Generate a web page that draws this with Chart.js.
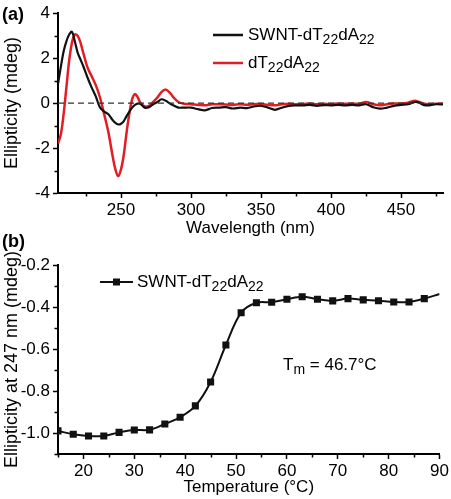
<!DOCTYPE html>
<html>
<head>
<meta charset="utf-8">
<script src="https://cdn.jsdelivr.net/npm/chart.js@4/dist/chart.umd.min.js"></script>
<style>
  html, body { margin: 0; padding: 0; background: #fff; }
  #wrap { position: relative; width: 451px; height: 499px; }
  canvas { position: absolute; left: 0; }
  #cdA { top: 0; }
  #cdB { top: 230px; }
</style>
</head>
<body>
<div id="wrap">
  <canvas id="cdA" width="451" height="240"></canvas>
  <canvas id="cdB" width="451" height="269"></canvas>
</div>
<script>
const FONT = "'Liberation Sans', Arial, sans-serif"
Chart.defaults.font.family = FONT
Chart.defaults.color = "#000"

// panel (a): CD spectra
const wavelength = [205, 207, 209, 211, 213, 215, 217, 219, 221, 223, 226, 229, 232, 235, 238, 241, 244, 246, 248, 250,
  252, 254, 256, 258, 260, 262, 264, 267, 270, 273, 276, 279, 282, 285, 288, 291, 295, 300, 305, 310,
  315, 320, 325, 330, 335, 340, 345, 350, 355, 360, 365, 370, 375, 380, 385, 390, 395, 400, 405, 410,
  415, 420, 425, 430, 435, 440, 445, 450, 455, 460, 463, 466, 470, 475, 480]
const cdSWNT = [0.85, 1.6, 2.3, 2.75, 3.05, 3.17, 2.75, 2.25, 1.95, 1.65, 1.15, 0.7, 0.3, -0.2, -0.38, -0.5, -0.75, -0.88, -0.95, -0.92,
  -0.8, -0.58, -0.38, -0.2, -0.08, -0.02, -0.04, -0.2, -0.18, -0.05, 0.05, 0.17, 0.1, -0.02, -0.12, -0.2, -0.2, -0.2, -0.27, -0.32,
  -0.22, -0.2, -0.18, -0.24, -0.2, -0.22, -0.15, -0.12, -0.2, -0.3, -0.2, -0.12, -0.1, -0.1, -0.08, -0.12, -0.09, -0.1, -0.08, -0.1,
  -0.08, -0.1, -0.05, -0.18, -0.25, -0.2, -0.12, -0.08, -0.05, 0.05, 0.02, -0.08, -0.1, -0.05, -0.06]
const cdFree = [-1.8, -1.4, -0.5, 0.7, 1.9, 2.7, 3.05, 3.0, 2.7, 2.25, 1.6, 1.2, 0.8, 0.25, -0.5, -1.3, -2.35, -2.95, -3.25, -2.95,
  -2.3, -1.3, -0.45, 0.18, 0.4, 0.25, 0.0, -0.15, -0.12, 0.05, 0.25, 0.5, 0.6, 0.45, 0.22, 0.05, -0.03, -0.05, -0.08, -0.1,
  -0.05, -0.05, -0.06, -0.08, -0.05, -0.07, -0.05, -0.04, -0.08, -0.1, -0.05, -0.03, -0.05, -0.04, -0.02, -0.05, -0.03, -0.04, -0.02, -0.03,
  -0.02, -0.03, 0.05, -0.05, -0.1, -0.05, -0.02, -0.02, 0.02, 0.1, 0.05, -0.02, -0.05, -0.03, -0.03]
const zeroWavelength = [205, 480]
const zeroLine = [0, 0]
const waveMajor = [250, 300, 350, 400, 450]
const waveMinor = [225, 275, 325, 375, 425, 475]
const cdMajor = [-4, -2, 0, 2, 4]
const cdMinor = [-3, -1, 1, 3]

// panel (b): melting curve at 247 nm
const temperature = [15, 18, 21, 24, 27, 30, 33, 36, 39, 42, 45, 48, 51, 54, 57, 60, 63, 66, 69, 72, 75, 78, 81, 84, 87, 90]
const ellip247 = [-0.99, -1.006, -1.014, -1.014, -0.997, -0.986, -0.985, -0.957, -0.925, -0.871, -0.757, -0.581, -0.427,
  -0.38, -0.377, -0.363, -0.351, -0.363, -0.371, -0.36, -0.366, -0.37, -0.376, -0.376, -0.36, -0.338]
const tempMajor = [20, 30, 40, 50, 60, 70, 80, 90]
const tempMinor = [15, 25, 35, 45, 55, 65, 75, 85]
const ellipMajor = [-1.0, -0.8, -0.6, -0.4, -0.2]
const ellipMinor = [-1.1, -0.9, -0.7, -0.5, -0.3]

const RED = "rgb(226, 30, 36)"
const BLACK = "#111"

function pairs(xs, ys) {
  return xs.map((x, i) => ({ x, y: ys[i] }))
}

function drawRich(ctx, x, y, parts, size) {
  ctx.textBaseline = "middle"
  ctx.textAlign = "left"
  ctx.fillStyle = "#000"
  parts.forEach(([text, sub]) => {
    ctx.font = `${sub ? Math.round(size * 0.8) : size}px ${FONT}`
    ctx.fillText(text, x, sub ? y + size * 0.32 : y)
    x += ctx.measureText(text).width
  })
}

function axis(major, extra) {
  return Object.assign({
    type: "linear",
    border: { display: true, color: "#000", width: 2 },
    grid: { drawOnChartArea: false, drawTicks: true, tickLength: 5, tickColor: "#000", tickWidth: 1.5 },
    afterBuildTicks(scale) { scale.ticks = major.map(value => ({ value })) }
  }, extra)
}

// shorter unlabeled ticks between the major ones
const minorTicks = {
  id: "minorTicks",
  afterDraw(chart, args, opts) {
    const ctx = chart.ctx
    const { x, y } = chart.scales
    ctx.save()
    ctx.strokeStyle = "#000"
    ctx.lineWidth = 1.5
    ctx.beginPath()
    opts.x.forEach(v => {
      const px = Math.round(x.getPixelForValue(v)) + 0.5
      ctx.moveTo(px, x.top)
      ctx.lineTo(px, x.top + 3.5)
    })
    opts.y.forEach(v => {
      const py = Math.round(y.getPixelForValue(v)) + 0.5
      ctx.moveTo(y.right, py)
      ctx.lineTo(y.right - 3.5, py)
    })
    ctx.stroke()
    ctx.restore()
  }
}

const swntLabel = [["SWNT-dT"], ["22", 1], ["dA"], ["22", 1]]
const freeLabel = [["dT"], ["22", 1], ["dA"], ["22", 1]]

const annotateA = {
  id: "annotateA",
  afterDraw(chart) {
    const ctx = chart.ctx
    ctx.save()
    ctx.font = `bold 18px ${FONT}`
    ctx.textBaseline = "middle"
    ctx.fillStyle = "#000"
    ctx.fillText("(a)", 2, 15)
    const rows = [[BLACK, 35, swntLabel], [RED, 63, freeLabel]]
    rows.forEach(([color, y, label]) => {
      ctx.strokeStyle = color
      ctx.lineWidth = 2.5
      ctx.beginPath()
      ctx.moveTo(213, y)
      ctx.lineTo(243, y)
      ctx.stroke()
      drawRich(ctx, 248, y, label, 17)
    })
    ctx.restore()
  }
}

const annotateB = {
  id: "annotateB",
  afterDraw(chart) {
    const ctx = chart.ctx
    ctx.save()
    ctx.font = `bold 18px ${FONT}`
    ctx.textBaseline = "middle"
    ctx.fillStyle = "#000"
    ctx.fillText("(b)", 2, 12)
    ctx.strokeStyle = BLACK
    ctx.lineWidth = 2
    ctx.beginPath()
    ctx.moveTo(100, 52)
    ctx.lineTo(133, 52)
    ctx.stroke()
    ctx.fillStyle = BLACK
    ctx.fillRect(113, 48.5, 7, 7)
    drawRich(ctx, 137, 52, swntLabel, 17)
    drawRich(ctx, 283, 135, [["T"], ["m", 1], [" = 46.7°C"]], 17)
    ctx.restore()
  }
}

new Chart(document.getElementById("cdA"), {
  type: "line",
  data: {
    datasets: [
      {
        data: pairs(zeroWavelength, zeroLine),
        borderColor: "#333",
        borderWidth: 1.3,
        borderDash: [6, 4],
        pointRadius: 0,
        tension: 0
      },
      {
        label: "SWNT-dT22dA22",
        data: pairs(wavelength, cdSWNT),
        borderColor: BLACK,
        borderWidth: 2.2,
        pointRadius: 0,
        tension: 0.35
      },
      {
        label: "dT22dA22",
        data: pairs(wavelength, cdFree),
        borderColor: RED,
        borderWidth: 2.5,
        pointRadius: 0,
        tension: 0.35
      }
    ]
  },
  options: {
    responsive: false,
    animation: false,
    layout: { padding: { top: 13, right: 8, left: 0, bottom: 0 } },
    plugins: {
      legend: { display: false },
      tooltip: { enabled: false },
      minorTicks: { x: waveMinor, y: cdMinor }
    },
    scales: {
      x: axis(waveMajor, {
        min: 205,
        max: 480,
        afterFit(scale) { scale.height = 47 },
        ticks: { autoSkip: false, maxRotation: 0, padding: 2, font: { size: 17 } },
        title: { display: true, text: "Wavelength (nm)", font: { size: 17 }, padding: { top: 0, bottom: 1 } }
      }),
      y: axis(cdMajor, {
        min: -4,
        max: 4,
        afterFit(scale) { scale.width = 58 },
        ticks: { autoSkip: false, padding: 3, font: { size: 17 } },
        title: { display: true, text: "Ellipticity (mdeg)", font: { size: 18 }, padding: { top: 1, bottom: 0 } }
      })
    }
  },
  plugins: [minorTicks, annotateA]
})

new Chart(document.getElementById("cdB"), {
  type: "line",
  data: {
    datasets: [{
      label: "SWNT-dT22dA22",
      data: pairs(temperature, ellip247),
      borderColor: BLACK,
      backgroundColor: BLACK,
      borderWidth: 2,
      pointStyle: "rect",
      pointRadius: c => (c.dataIndex === temperature.length - 1 ? 0 : 5),
      pointBorderWidth: 0,
      tension: 0.35
    }]
  },
  options: {
    responsive: false,
    animation: false,
    layout: { padding: { top: 35, right: 8, left: 0, bottom: 0 } },
    plugins: {
      legend: { display: false },
      tooltip: { enabled: false },
      minorTicks: { x: tempMinor, y: ellipMinor }
    },
    scales: {
      x: axis(tempMajor, {
        min: 15,
        max: 90,
        afterFit(scale) { scale.height = 45 },
        ticks: { autoSkip: false, maxRotation: 0, padding: 2, font: { size: 17 } },
        title: { display: true, text: "Temperature (°C)", font: { size: 17 }, padding: { top: 0, bottom: 1 } }
      }),
      y: axis(ellipMajor, {
        min: -1.1,
        max: -0.2,
        afterFit(scale) { scale.width = 58 },
        ticks: { autoSkip: false, padding: 3, font: { size: 17 }, callback: v => v.toFixed(1) },
        title: { display: true, text: "Ellipticity at 247 nm (mdeg)", font: { size: 18 }, padding: { top: 1, bottom: 0 } }
      })
    }
  },
  plugins: [minorTicks, annotateB]
})
</script>
</body>
</html>
